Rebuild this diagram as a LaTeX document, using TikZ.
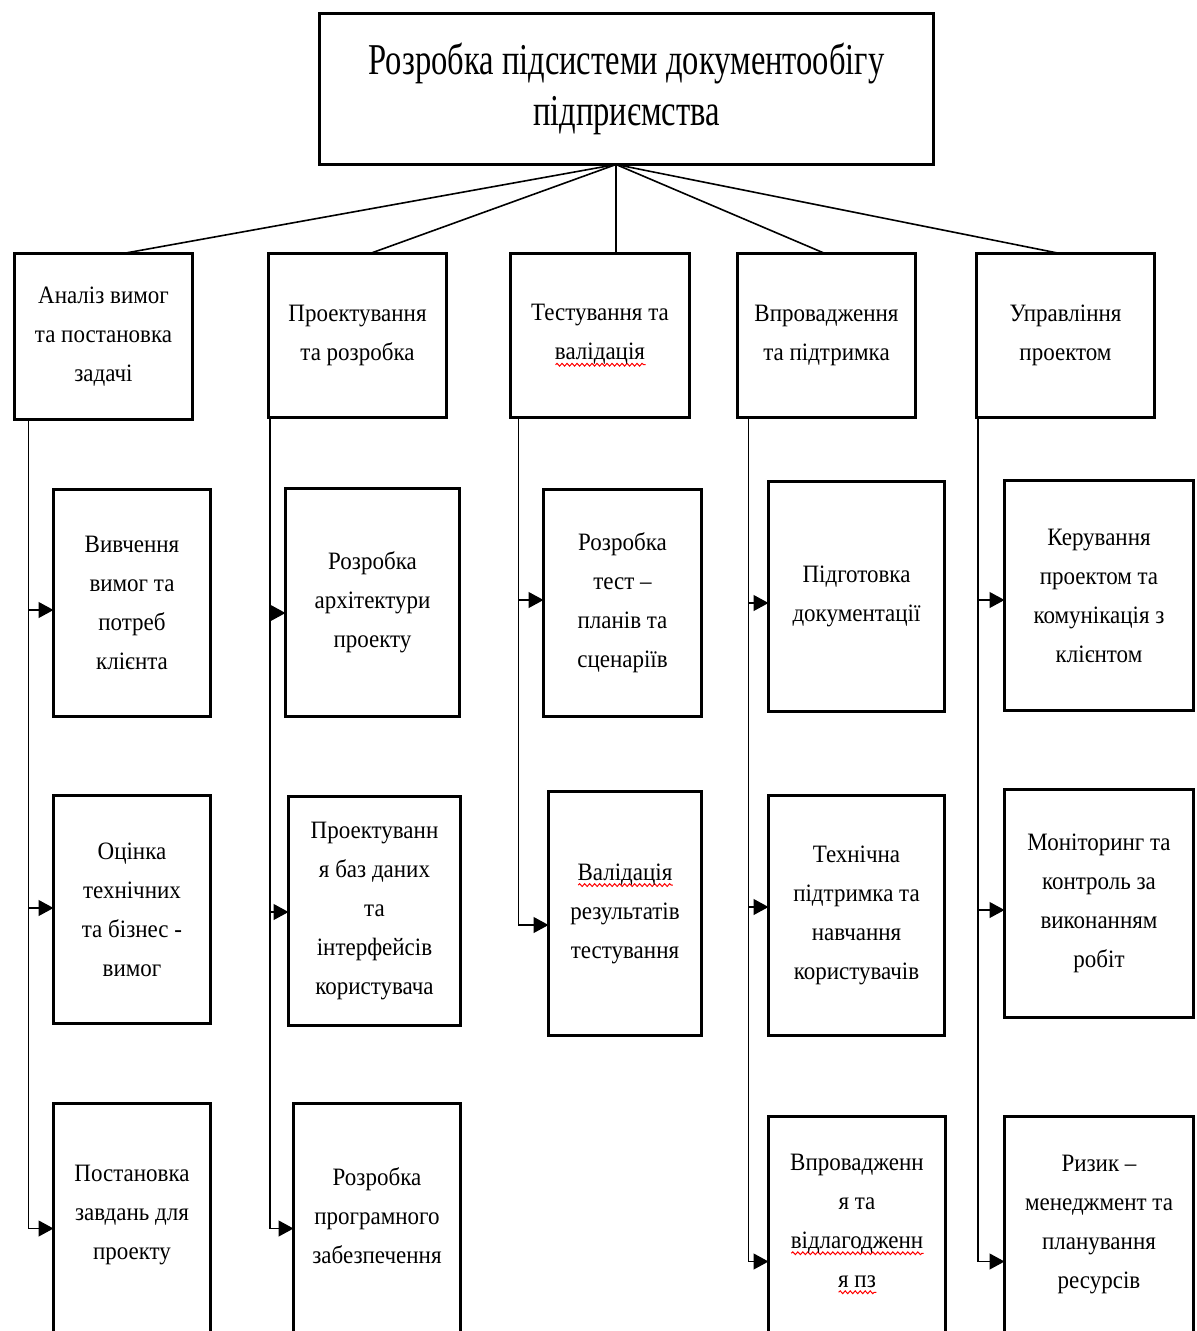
\documentclass[tikz,border=0pt]{standalone}
\usepackage{fontspec}
\setmainfont{Liberation Serif}
\newfontfamily\headfont[FakeStretch=0.74]{Liberation Serif}
\newfontfamily\cellfont[FakeStretch=0.92]{Liberation Serif}
\usetikzlibrary{arrows.meta,calc,decorations.pathmorphing}

% red wavy underline (spell-check mark) under a word
\newsavebox\wavebox
\newcommand\redwave[1]{\sbox\wavebox{#1}%
  \rlap{\tikz[baseline=0pt]\draw[red, line width=1pt, decorate,
     decoration={snake, amplitude=1.4pt, segment length=5pt}]
     (0pt,-5pt) -- (\the\wd\wavebox,-5pt);}\usebox\wavebox}

\begin{document}
\begin{tikzpicture}[x=1pt,y=-1pt,
  frame/.style={draw, line width=3pt, rectangle, inner sep=0pt, outer sep=0pt, align=center},
  toptext/.style={font={\headfont\fontsize{44}{51}\selectfont}},
  celltext/.style={align=center, font={\cellfont\fontsize{25}{39}\selectfont}},
  cell/.style={frame, celltext},
  link/.style={line width=1.6pt},
  feed/.style={line width=1.2pt, -{Triangle[length=15pt,width=16pt]}},
]
\clip (0,0) rectangle (1197,1331);
\fill[white] (0,0) rectangle (1197,1331);

% root
\node[frame, toptext, minimum width=614pt, minimum height=151pt] (top) at (626.5,89)
  {Розробка підсистеми документообігу\\підприємства};

% first level
\node[cell, minimum width=178pt, minimum height=166pt] (a1) at (103.5,336.5) {Аналіз вимог\\та постановка\\задачі};
\node[cell, minimum width=178pt, minimum height=164pt] (a2) at (357.5,335.5) {Проектування\\та розробка};
\node[cell, minimum width=179pt, minimum height=164pt] (a3) at (600,335.5) {Тестування та\\\redwave{валідація}};
\node[cell, minimum width=178pt, minimum height=164pt] (a4) at (826.5,335.5) {Впровадження\\та підтримка};
\node[cell, minimum width=178pt, minimum height=164pt] (a5) at (1065.5,335.5) {Управління\\проектом};

\coordinate (hub) at ([xshift=-10.5pt]top.south);
\draw[link] (hub) -- ([xshift=19.5pt]a1.north);
\draw[link] (hub) -- ([xshift=12.5pt]a2.north);
\draw[link] (hub) -- ([xshift=16pt]a3.north);
\draw[link] (hub) -- ([xshift=-1.5pt]a4.north);
\draw[link] (hub) -- ([xshift=-5.5pt]a5.north);

% column 1
\node[cell, minimum width=157pt, minimum height=227pt] (c11) at (132,603) {Вивчення\\вимог та\\потреб\\клієнта};
\node[cell, minimum width=157pt, minimum height=228pt] (c12) at (132,909.5) {Оцінка\\технічних\\та бізнес -\\вимог};
\node[frame, minimum width=157pt, minimum height=250pt] (c13) at (132,1228.5) {};
\node[celltext] (t13) at (132,1215) {Постановка\\завдань для\\проекту};

% column 2
\node[cell, minimum width=174pt, minimum height=228pt] (c21) at (372.5,602.5) {Розробка\\архітектури\\проекту};
\node[cell, minimum width=172pt, minimum height=229pt] (c22) at (374.5,911) {Проектуванн\\я баз даних\\та\\інтерфейсів\\користувача};
\node[frame, minimum width=167pt, minimum height=250pt] (c23) at (377,1228.5) {};
\node[celltext] (t23) at (377,1216) {Розробка\\програмного\\забезпечення};

% column 3
\node[cell, minimum width=158pt, minimum height=227pt] (c31) at (622.5,603) {Розробка\\тест –\\планів та\\сценаріїв};
\node[cell, minimum width=153pt, minimum height=244pt] (c32) at (625,913.5) {\redwave{Валідація}\\результатів\\тестування};

% column 4
\node[cell, minimum width=176pt, minimum height=230pt] (c41) at (856.5,596.5) {Підготовка\\документації};
\node[cell, minimum width=176pt, minimum height=240pt] (c42) at (856.5,915.5) {Технічна\\підтримка та\\навчання\\користувачів};
\node[frame, minimum width=177pt, minimum height=290pt] (c43) at (857,1261.5) {};
\node[celltext] (t43) at (857,1224) {Впровадженн\\я та\\\redwave{відлагодженн}\\\redwave{я пз}};

% column 5
\node[cell, minimum width=189pt, minimum height=230pt] (c51) at (1099,595.5) {Керування\\проектом та\\комунікація з\\клієнтом};
\node[cell, minimum width=189pt, minimum height=228pt] (c52) at (1099,903.5) {Моніторинг та\\контроль за\\виконанням\\робіт};
\node[frame, minimum width=189pt, minimum height=290pt] (c53) at (1099,1261.5) {};
\node[celltext] (t53) at (1099,1224) {Ризик –\\менеджмент та\\планування\\ресурсів};

% vertical feeders from each first-level box
\coordinate (s1) at ([xshift=14pt]a1.south west);
\coordinate (s2) at ([xshift=1.5pt]a2.south west);
\coordinate (s3) at ([xshift=8pt]a3.south west);
\coordinate (s4) at ([xshift=11pt]a4.south west);
\coordinate (s5) at ([xshift=1.5pt]a5.south west);

\draw[feed] (s1) |- ([yshift=-7pt]c11.west);
\draw[feed] (s1) |- ([yshift=1.5pt]c12.west);
\draw[feed] (s1) |- (c13.west);

\draw[feed] (s2) |- ([yshift=-10.5pt]c21.west);
\draw[feed] (s2) |- ([yshift=-1pt]c22.west);
\draw[feed] (s2) |- (c23.west);

\draw[feed] (s3) |- ([yshift=3pt]c31.west);
\draw[feed] (s3) |- ([yshift=-11.5pt]c32.west);

\draw[feed] (s4) |- ([yshift=-6.5pt]c41.west);
\draw[feed] (s4) |- ([yshift=8.5pt]c42.west);
\draw[feed] (s4) |- (c43.west);

\draw[feed] (s5) |- ([yshift=-4.5pt]c51.west);
\draw[feed] (s5) |- ([yshift=-6.5pt]c52.west);
\draw[feed] (s5) |- (c53.west);
\end{tikzpicture}
\end{document}
